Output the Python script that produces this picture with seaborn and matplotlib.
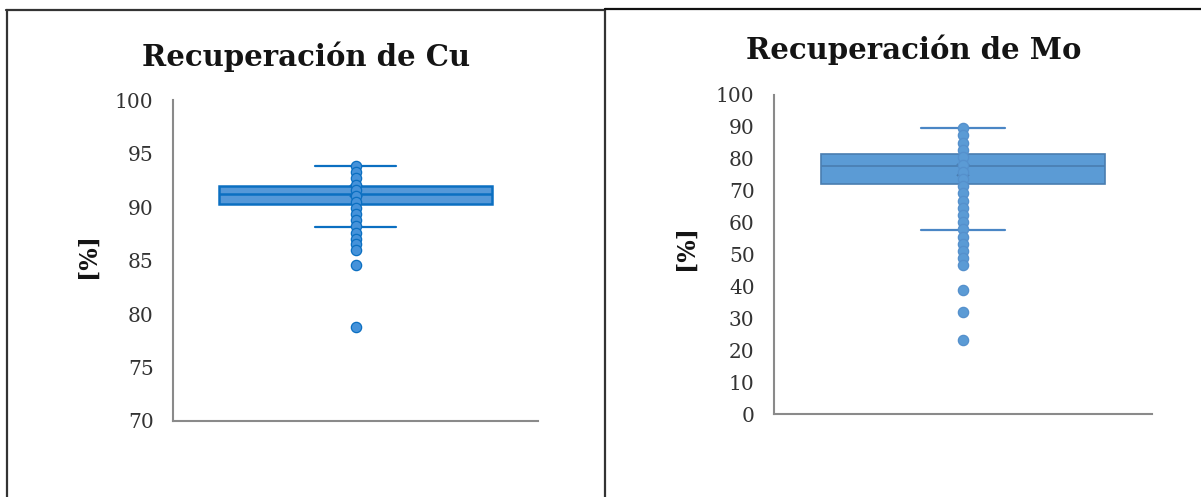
import matplotlib
matplotlib.use("Agg")
import matplotlib.pyplot as plt
from matplotlib.lines import Line2D
import seaborn as sns
import pandas as pd

# --- Copper recovery (%) ---
cu_title = "Recuperación de Cu"
cu_points = [93.8, 93.3, 92.7, 92.1, 91.6, 91.0, 90.5, 89.9, 89.3, 88.8,
             88.2, 87.6, 87.0, 86.5, 86.0, 84.6, 78.8]
cu_q1, cu_median, cu_q3 = 90.3, 91.2, 92.0
cu_whislo, cu_whishi = 88.15, 93.8
cu_mean = 91.5
cu_ticks = [70, 75, 80, 85, 90, 95, 100]

# --- Molybdenum recovery (%) ---
mo_title = "Recuperación de Mo"
mo_points = [89.6, 87.4, 85.1, 82.9, 80.6, 78.2, 75.9, 73.7, 71.4, 69.2,
             66.9, 64.7, 62.4, 60.1, 57.9, 55.6, 53.4, 51.1, 48.9, 46.7,
             38.8, 31.9, 23.3]
mo_q1, mo_median, mo_q3 = 72.1, 77.7, 81.6
mo_whislo, mo_whishi = 57.7, 89.7
mo_mean = 76.5
mo_ticks = [0, 10, 20, 30, 40, 50, 60, 70, 80, 90, 100]

y_label = "[%]"

sns.set_theme(style="white")
plt.rcParams["font.family"] = ["DejaVu Serif"]

W, H = 1201, 497
fig = plt.figure(figsize=(W / 100, H / 100), dpi=100)
fig.patch.set_facecolor("white")


def px_axes(left, top, right, bottom):
    return fig.add_axes([left / W, 1 - bottom / H, (right - left) / W, (bottom - top) / H])


def draw_panel(ax, points, q1, med, q3, wlo, whi, mean, ticks, title,
               fill, edge, pt_face, pt_edge, cap_color, lw_box, title_xy, ylab_xy):
    stats = [dict(med=med, q1=q1, q3=q3, whislo=wlo, whishi=whi, mean=mean, fliers=[])]
    ax.bxp(stats, positions=[0], widths=0.75, capwidths=0.22, patch_artist=True,
           showmeans=True, showfliers=False,
           boxprops=dict(facecolor=fill, edgecolor=edge, linewidth=lw_box),
           medianprops=dict(color=edge, linewidth=lw_box),
           whiskerprops=dict(color=cap_color, linewidth=1.4),
           capprops=dict(color=cap_color, linewidth=1.6),
           meanprops=dict(marker="x", markeredgecolor=edge, markersize=9, markeredgewidth=1.4))
    df = pd.DataFrame({"x": [0] * len(points), "y": points})
    sns.scatterplot(data=df, x="x", y="y", ax=ax, s=55, color=pt_face,
                    edgecolor=pt_edge, linewidth=0.9, zorder=4, legend=False)
    ax.set_xlim(-0.5, 0.5)
    ax.set_ylim(ticks[0], ticks[-1])
    ax.set_yticks(ticks)
    ax.set_yticklabels([str(t) for t in ticks], fontsize=14.5, color="#333333")
    ax.set_xticks([])
    ax.set_xlabel("")
    ax.set_ylabel("")
    ax.tick_params(axis="y", length=0, pad=14)
    for side in ("top", "right"):
        ax.spines[side].set_visible(False)
    for side in ("left", "bottom"):
        ax.spines[side].set_color("#8a8a8a")
        ax.spines[side].set_linewidth(1.5)
    ax.set_facecolor("white")
    fig.text(title_xy[0] / W, 1 - title_xy[1] / H, title, ha="center", va="center",
             fontsize=21, fontweight="bold", color="#141414")
    fig.text(ylab_xy[0] / W, 1 - ylab_xy[1] / H, y_label, ha="center", va="center",
             rotation=90, fontsize=17, fontweight="bold", color="#141414")


ax_cu = px_axes(173, 100, 538, 421)
draw_panel(ax_cu, cu_points, cu_q1, cu_median, cu_q3, cu_whislo, cu_whishi, cu_mean,
           cu_ticks, cu_title, fill="#5598d8", edge="#0b6fc1", pt_face="#4592da",
           pt_edge="#0b6fc1", cap_color="#0b6fc1", lw_box=1.8,
           title_xy=(306, 57), ylab_xy=(88, 255))

ax_mo = px_axes(774, 95, 1152, 414)
draw_panel(ax_mo, mo_points, mo_q1, mo_median, mo_q3, mo_whislo, mo_whishi, mo_mean,
           mo_ticks, mo_title, fill="#5b9bd5", edge="#4a7eb0", pt_face="#5b9bd5",
           pt_edge="#5590cc", cap_color="#4a86c5", lw_box=1.2,
           title_xy=(914, 50), ylab_xy=(686, 248))

# Table-cell style frame around the two panels
frame = dict(color="#333333", linewidth=1.6, transform=fig.transFigure)
fig.add_artist(Line2D([6 / W, 605 / W], [1 - 10 / H, 1 - 10 / H], **frame))
fig.add_artist(Line2D([7 / W, 7 / W], [1 - 10 / H, 0], **frame))
fig.add_artist(Line2D([605 / W, 605 / W], [1 - 9 / H, 0], **frame))
fig.add_artist(Line2D([605 / W, 1.0], [1 - 9 / H, 1 - 9 / H], color="#111111",
                      linewidth=1.6, transform=fig.transFigure))

fig.savefig("out.png", dpi=100, facecolor="white")
